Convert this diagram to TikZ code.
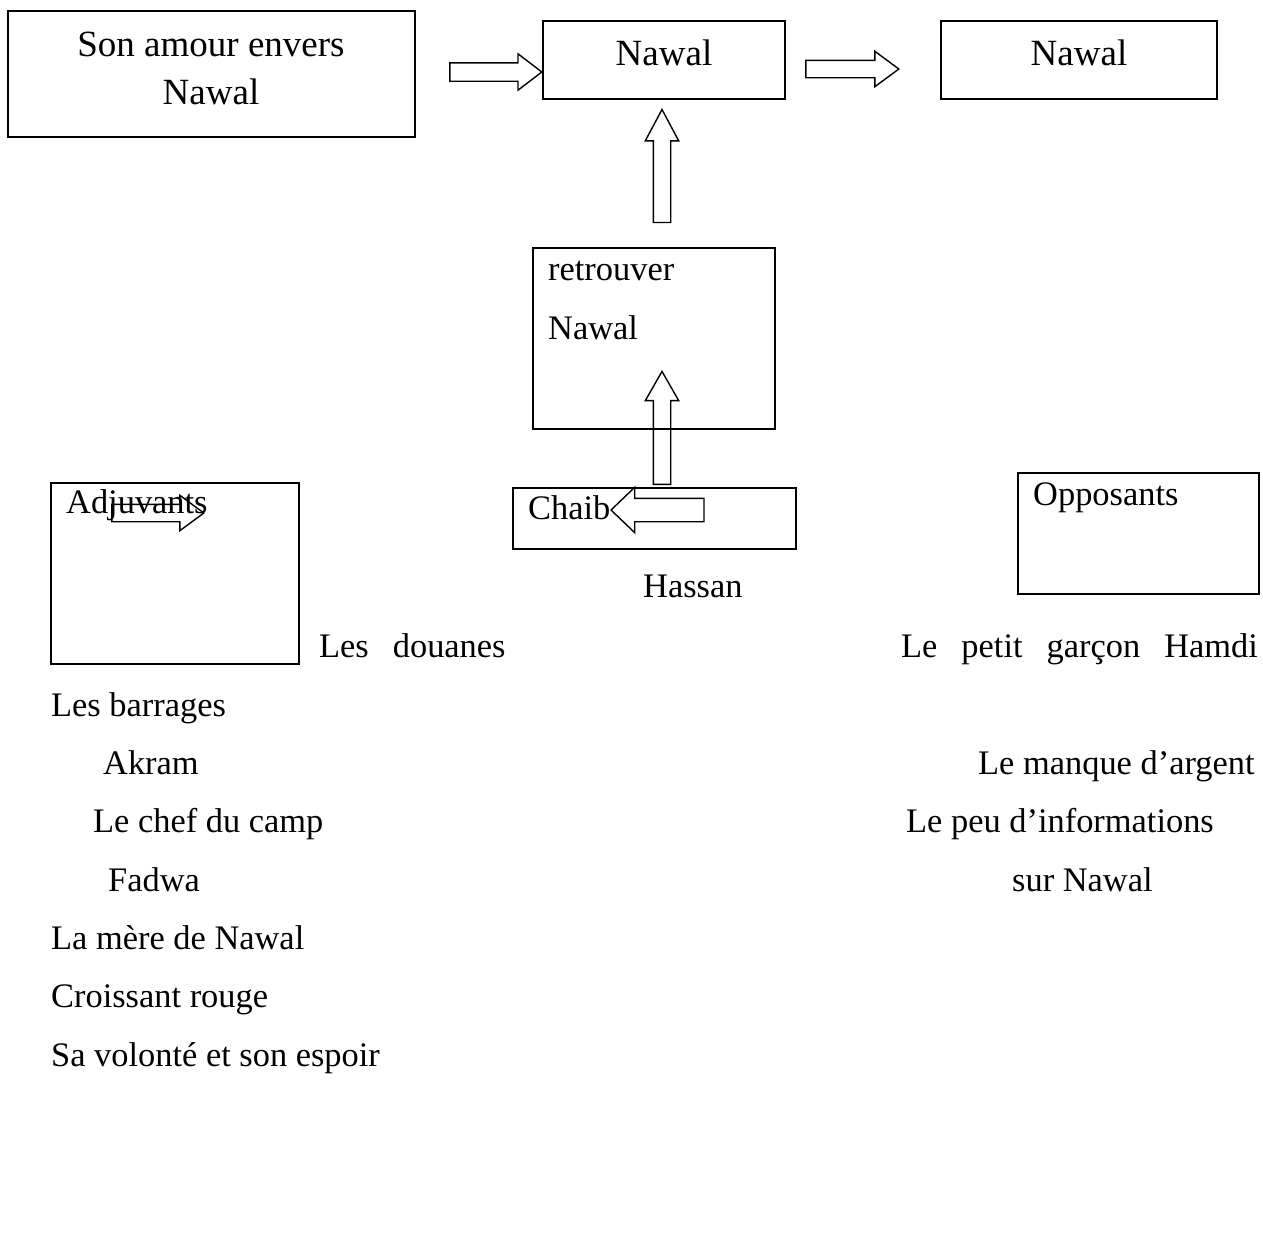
\documentclass[tikz,border=0pt]{standalone}
\usepackage{fontspec}
\setmainfont{Liberation Serif}
\usetikzlibrary{shapes.arrows}

\begin{document}
\begin{tikzpicture}[x=1pt, y=-1pt, font=\fontsize{34.4}{47}\selectfont,
    big box/.style={draw, line width=1.8pt, anchor=north west, inner sep=0pt, outer sep=0pt},
    small box/.style={draw, line width=1.1pt, anchor=north west, inner sep=0pt, outer sep=0pt},
    word/.style={anchor=base west, inner sep=0pt},
    mid word/.style={anchor=base, inner sep=0pt, font=\fontsize{37}{47}\selectfont},
    block/.style={single arrow, draw, line width=1.4pt, inner sep=0pt, anchor=tip, single arrow head indent=0pt}]

    \useasboundingbox (0,0) rectangle (1263,1242);

    % les cases
    \node[big box, minimum width=407, minimum height=126] at (8,11) (amour) {};
    \node[big box, minimum width=242, minimum height=78] at (543,21) (sujet) {};
    \node[big box, minimum width=276, minimum height=78] at (941,21) (objet) {};
    \node[small box, minimum width=242, minimum height=181] at (533,248) (quete) {};
    \node[small box, minimum width=283, minimum height=61] at (513,488) (chaib) {};
    \node[small box, minimum width=248, minimum height=181] at (51,483) (adj) {};
    \node[small box, minimum width=241, minimum height=121] at (1018,473) (opp) {};

    \node[mid word] at (211,56) (amour1) {Son amour envers};
    \node[mid word] at (211,104) (amour2) {Nawal};
    \node[mid word] at (664,65) (sujet1) {Nawal};
    \node[mid word] at (1079,65) (objet1) {Nawal};
    \node[word] at (548,280) (quete1) {retrouver};
    \node[word] at (548,339) (quete2) {Nawal};
    \node[word] at (528,519) (chaib1) {Chaib};
    \node[word] at (643,597) (hassan) {Hassan};
    \node[word] at (66,513) (adj1) {Adjuvants};
    \node[word] at (1033,505) (opp1) {Opposants};

    % les fleches
    \node[block, inner ysep=8.5pt, minimum height=92, minimum width=35, single arrow head extend=9, single arrow tip angle=74.6] at (543,72) (fl1) {};
    \node[block, inner ysep=8pt, minimum height=93, minimum width=34, single arrow head extend=9, single arrow tip angle=72.9] at (900,69) (fl2) {};
    \node[block, rotate=90, inner ysep=8pt, minimum height=113, minimum width=32, single arrow head extend=8, single arrow tip angle=56.1] at (662,108) (fl3) {};
    \node[block, rotate=90, inner ysep=8pt, minimum height=113, minimum width=32, single arrow head extend=8, single arrow tip angle=59.5] at (662,370) (fl4) {};
    \node[block, rotate=180, inner ysep=11pt, minimum height=93, minimum width=44, single arrow head extend=11, single arrow tip angle=87.5] at (610,510) (fl5) {};
    \node[block, inner ysep=8pt, minimum height=92, minimum width=34, single arrow head extend=9, single arrow tip angle=72.9] at (205,513) (fl6) {};

    % les listes
    \node[word] at (319,657) (douanes) {Les\hspace{24pt}douanes};
    \node[word] at (901,657) (hamdi) {Le\hspace{24pt}petit\hspace{24pt}garçon\hspace{24pt}Hamdi};
    \node[word] at (51,716) (barrages) {Les barrages};
    \node[word] at (103,774) (akram) {Akram};
    \node[word] at (978,774) (argent) {Le manque d’argent};
    \node[word] at (93,832) (chef) {Le chef du camp};
    \node[word] at (906,832) (infos) {Le peu d’informations};
    \node[word] at (108,891) (fadwa) {Fadwa};
    \node[word] at (1012,891) (surnawal) {sur Nawal};
    \node[word] at (51,949) (mere) {La mère de Nawal};
    \node[word] at (51,1007) (croissant) {Croissant rouge};
    \node[word] at (51,1066) (volonte) {Sa volonté et son espoir};

\end{tikzpicture}
\end{document}
